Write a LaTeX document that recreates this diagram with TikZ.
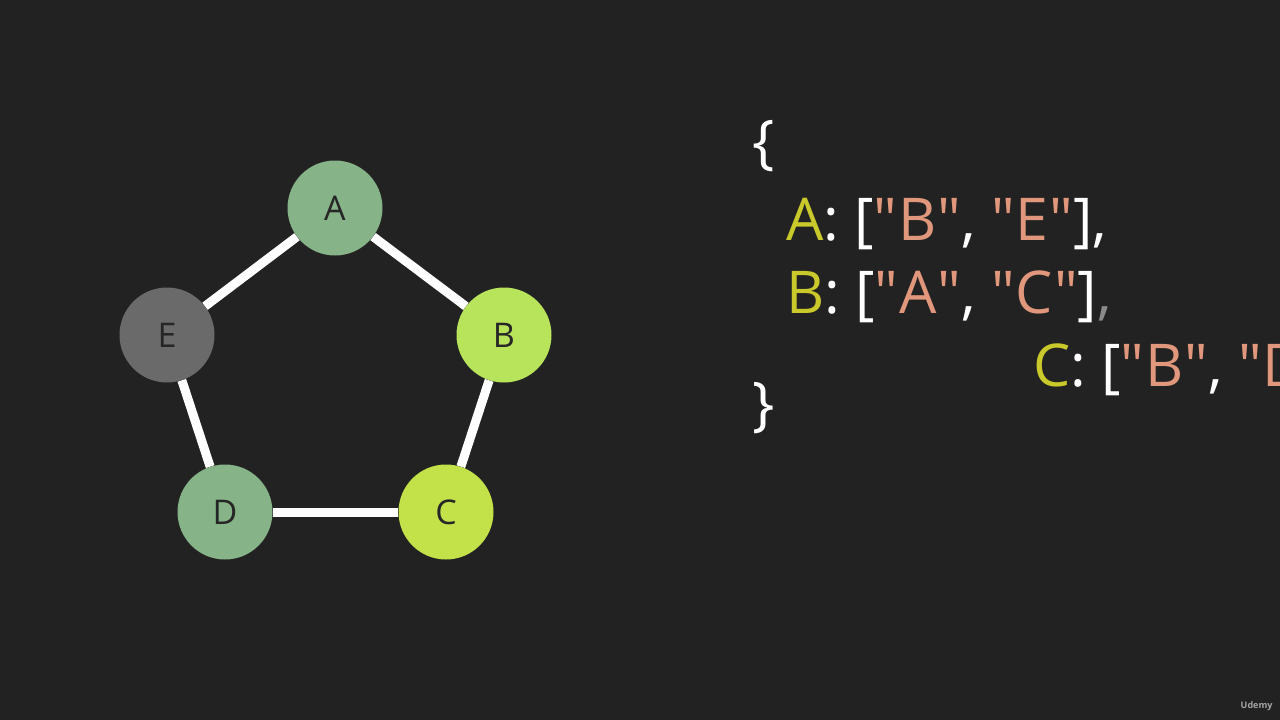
\documentclass[tikz,border=0pt]{standalone}
\usepackage{fontspec}
\setmainfont{Open Sans}
\definecolor{bg}{HTML}{222222}
\definecolor{gA}{HTML}{86B387}
\definecolor{gB}{HTML}{B8E45C}
\definecolor{gC}{HTML}{C3E24A}
\definecolor{gE}{HTML}{6A6A6A}
\definecolor{ky}{HTML}{C9C92C}
\definecolor{sv}{HTML}{E0977C}
\definecolor{cm}{HTML}{8A8A8A}
\newcommand{\qq}[1]{\textcolor{sv}{\textquotedbl\kern1pt #1\kern1pt\textquotedbl}}
\begin{document}
\begin{tikzpicture}[x=1pt,y=-1pt,
  vert/.style={circle,minimum size=95pt,inner sep=0pt,text=black!85,font=\fontsize{34}{34}\selectfont},
  edge/.style={draw=white,line width=9pt},
  code/.style={anchor=base west,inner sep=0pt,text=white,font=\fontsize{59}{59}\selectfont}]
\fill[bg] (0,0) rectangle (1280,720);
\useasboundingbox (0,0) rectangle (1280,720);
\clip (0,0) rectangle (1280,720);
\node[vert,fill=gA] (A) at (335,208) {A};
\node[vert,fill=gB] (B) at (504,335) {B};
\node[vert,fill=gC] (C) at (446,512) {C};
\node[vert,fill=gA] (D) at (225,512) {D};
\node[vert,fill=gE] (E) at (167,335) {E};
\draw[edge] (A) -- (B);
\draw[edge] (B) -- (C);
\draw[edge] (C) -- (D);
\draw[edge] (D) -- (E);
\draw[edge] (E) -- (A);
\node[code] (ob) at (752,162) {\{};
\node[code] (la) at (786,240) {\textcolor{ky}{A}: [\qq{B}, \qq{E}],};
\node[code] (lb) at (786,313) {\textcolor{ky}{B}: [\qq{A}, \qq{C}]\textcolor{cm}{,}};
\node[code] (lc) at (1033,386) {\textcolor{ky}{C}: [\qq{B}, \qq{D}],};
\node[code] (cb) at (752,424) {\}};
\node[anchor=east,text=gray!70,font=\bfseries\fontsize{9}{9}\selectfont] (ud) at (1276,706) {Udemy};
\end{tikzpicture}
\end{document}
